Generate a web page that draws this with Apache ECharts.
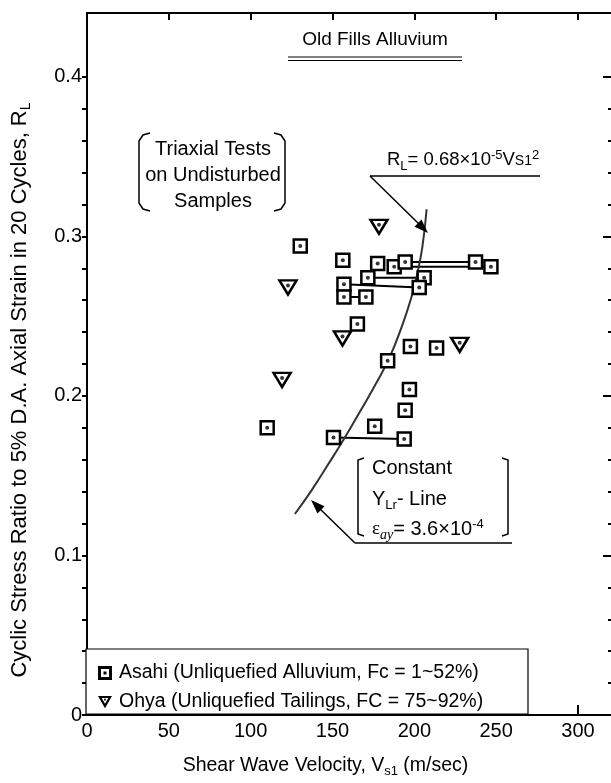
<!DOCTYPE html>
<html>
<head>
<meta charset="utf-8">
<style>
  html, body { margin: 0; padding: 0; background: #fff; }
  #main { width: 611px; height: 783px; }
</style>
<script src="https://cdn.jsdelivr.net/npm/echarts@6/dist/echarts.min.js"></script>
</head>
<body>
<div id="main"></div>
<script>
// Asahi (squares): Vs1, RL
var asahiVs = [130.3, 156.3, 177.6, 187.7, 194.4, 237.4, 246.8, 171.6, 206.0, 157.0, 203.0, 157.0, 170.4, 165.2, 197.6, 213.6, 183.7, 197.0, 194.4, 110.1, 175.8, 150.6, 193.8];
var asahiRL = [0.294, 0.285, 0.283, 0.281, 0.284, 0.284, 0.281, 0.274, 0.274, 0.270, 0.268, 0.262, 0.262, 0.245, 0.231, 0.230, 0.222, 0.204, 0.191, 0.180, 0.181, 0.174, 0.173];
// pairs of Asahi points joined by a line (indexes)
var asahiLinks = [[4, 5], [3, 6], [7, 8], [9, 10], [11, 12], [21, 22]];
// Ohya (triangles)
var ohyaVs = [178.4, 122.8, 156.1, 227.7, 119.2];
var ohyaRL = [0.306, 0.268, 0.236, 0.232, 0.210];
// RL = 0.68e-5 Vs1^2 line
var curveVs = [127, 137, 147, 157, 167, 177, 185, 192, 198, 202, 205, 207.5];
var curveRL = [0.126, 0.1405, 0.1565, 0.173, 0.1905, 0.2085, 0.2245, 0.2425, 0.261, 0.2775, 0.294, 0.317];
// ticks
var xTicks = [0, 50, 100, 150, 200, 250, 300];
var yLabels = [0, 0.1, 0.2, 0.3, 0.4];
var yMinor = [0, 0.02, 0.04, 0.06, 0.08, 0.1, 0.12, 0.14, 0.16, 0.18, 0.2, 0.22, 0.24, 0.26, 0.28, 0.3, 0.32, 0.34, 0.36, 0.38, 0.4];

var ASAHI = 'Asahi (Unliquefied Alluvium, Fc = 1~52%)';
var OHYA = 'Ohya (Unliquefied Tailings, FC = 75~92%)';
var FONT = '"Liberation Sans", Arial, sans-serif';

function zip(a, b) {
    return a.map(function (v, i) { return [v, b[i]]; });
}

var myChart = echarts.init(document.getElementById('main'));

var series = [];
// connecting lines
asahiLinks.forEach(function (p) {
    series.push({
        type: 'line',
        data: [[asahiVs[p[0]], asahiRL[p[0]]], [asahiVs[p[1]], asahiRL[p[1]]]],
        showSymbol: false,
        lineStyle: { color: '#000', width: 2 },
        silent: true,
        z: 2
    });
});
series.push({
    type: 'line',
    data: zip(curveVs, curveRL),
    smooth: true,
    showSymbol: false,
    lineStyle: { color: '#333', width: 2 },
    silent: true,
    z: 2
});
series.push({
    name: ASAHI,
    type: 'scatter',
    data: zip(asahiVs, asahiRL),
    symbol: 'rect',
    symbolSize: 13,
    itemStyle: { color: '#fff', borderColor: '#000', borderWidth: 2.5, opacity: 1 },
    z: 3
});
series.push({
    type: 'scatter',
    data: zip(asahiVs, asahiRL),
    symbol: 'circle',
    symbolSize: 4,
    itemStyle: { color: '#000' },
    z: 4
});
series.push({
    name: OHYA,
    type: 'scatter',
    data: zip(ohyaVs, ohyaRL),
    symbol: 'triangle',
    symbolRotate: 180,
    symbolSize: [17, 14],
    itemStyle: { color: '#fff', borderColor: '#000', borderWidth: 2.5, opacity: 1 },
    z: 3
});
series.push({
    type: 'scatter',
    data: zip(ohyaVs, ohyaRL),
    symbol: 'circle',
    symbolSize: 4,
    symbolOffset: [0, -2],
    itemStyle: { color: '#000' },
    z: 4
});

var subStyle = { fontSize: 13, fontFamily: FONT, padding: [12, 0, 0, 0] };
var supStyle = { fontSize: 13, fontFamily: FONT, padding: [0, 0, 10, 0] };
var axisLineStyle = { color: '#000', width: 2 };

var option = {
    animation: false,
    textStyle: { fontFamily: FONT, color: '#000' },
    grid: { left: 87, top: 13, right: -3, bottom: 68, outerBoundsMode: 'none', containLabel: false },
    xAxis: [
        {
            type: 'value', position: 'bottom', min: 0, max: 322,
            axisLine: { onZero: false, lineStyle: axisLineStyle },
            axisTick: { inside: true, length: 10, customValues: xTicks, lineStyle: { color: '#000', width: 2 } },
            axisLabel: { customValues: xTicks, fontSize: 20, color: '#000', margin: 6, fontFamily: FONT },
            splitLine: { show: false },
            name: 'Shear Wave Velocity, V{sub|s1} (m/sec)',
            nameLocation: 'middle',
            nameGap: 38,
            nameTextStyle: { fontSize: 19.5, color: '#000', fontFamily: FONT, padding: [0, 50, 0, 0], rich: { sub: subStyle } }
        },
        {
            type: 'value', position: 'top', min: 0, max: 322,
            axisLine: { onZero: false, lineStyle: axisLineStyle },
            axisTick: { inside: true, length: 7, customValues: xTicks, lineStyle: { color: '#000', width: 2 } },
            axisLabel: { show: false },
            splitLine: { show: false }
        }
    ],
    yAxis: [
        {
            type: 'value', position: 'left', min: 0, max: 0.44,
            axisLine: { show: true, onZero: false, lineStyle: axisLineStyle },
            axisTick: { show: true, inside: false, length: 5, customValues: yMinor, lineStyle: { color: '#000', width: 2 } },
            axisLabel: {
                customValues: yLabels, fontSize: 20, color: '#000', margin: 5, fontFamily: FONT,
                formatter: function (v) { return v === 0 ? '0' : v.toFixed(1); }
            },
            splitLine: { show: false },
            name: 'Cyclic Stress Ratio to 5% D.A. Axial Strain in 20 Cycles, R{sub|L}',
            nameLocation: 'middle',
            nameRotate: 90,
            nameGap: 54,
            nameTextStyle: { fontSize: 22, color: '#000', fontFamily: FONT, padding: [0, 52, 0, 0], rich: { sub: { fontSize: 14, fontFamily: FONT, padding: [13, 0, 0, 0] } } }
        },
        {
            type: 'value', position: 'right', min: 0, max: 0.44,
            axisLine: { show: true, onZero: false, lineStyle: axisLineStyle },
            axisTick: { show: true, inside: true, length: 11, customValues: yLabels, lineStyle: { color: '#000', width: 2 } },
            axisLabel: { show: false },
            splitLine: { show: false }
        },
        {
            type: 'value', position: 'right', min: 0, max: 0.44,
            axisLine: { show: false, onZero: false },
            axisTick: { show: true, inside: true, length: 6, customValues: yMinor, lineStyle: { color: '#000', width: 2 } },
            axisLabel: { show: false },
            splitLine: { show: false }
        }
    ],
    legend: {
        orient: 'vertical',
        left: 93,
        top: 658,
        itemWidth: 14,
        itemHeight: 14,
        itemGap: 9,
        selectedMode: false,
        z: 10,
        textStyle: { fontSize: 19.5, color: '#000', fontFamily: FONT, padding: [0, 0, 0, 2] },
        data: [
            {
                name: ASAHI,
                icon: 'path://M0,0L14,0L14,14L0,14Z M3,3L3,11L11,11L11,3Z M5.5,5.5L8.5,5.5L8.5,8.5L5.5,8.5Z',
                itemStyle: { color: '#000', borderWidth: 0 }
            },
            {
                name: OHYA,
                icon: 'path://M0,0L16,0L8,14Z M4.2,2.4L8,9L11.8,2.4Z M7,3.4L9,3.4L9,5.4L7,5.4Z',
                itemStyle: { color: '#000', borderWidth: 0 }
            }
        ]
    },
    graphic: [
        // legend box
        { type: 'rect', z: 8, shape: { x: 86, y: 649, width: 442, height: 65 }, style: { fill: '#fff', stroke: '#000', lineWidth: 1.2 } },
        // title with double underline
        { type: 'text', z: 8, x: 375, y: 40, style: { text: 'Old Fills Alluvium', font: '19px ' + FONT, textAlign: 'center', textVerticalAlign: 'middle', fill: '#000' } },
        { type: 'line', z: 8, shape: { x1: 288, y1: 57, x2: 462, y2: 57 }, style: { stroke: '#000', lineWidth: 1.2 } },
        { type: 'line', z: 8, shape: { x1: 288, y1: 60.5, x2: 462, y2: 60.5 }, style: { stroke: '#000', lineWidth: 1.2 } },
        // Triaxial tests note
        { type: 'text', z: 8, x: 213, y: 175, style: { text: 'Triaxial Tests\non Undisturbed\nSamples', font: '20px ' + FONT, lineHeight: 26, textAlign: 'center', textVerticalAlign: 'middle', fill: '#000' } },
        { type: 'polyline', z: 8, shape: { points: [[150, 133], [143, 135], [139, 141], [139, 203], [143, 209], [150, 211]] }, style: { stroke: '#000', lineWidth: 1.5, fill: null } },
        { type: 'polyline', z: 8, shape: { points: [[274, 133], [281, 135], [285, 141], [285, 203], [281, 209], [274, 211]] }, style: { stroke: '#000', lineWidth: 1.5, fill: null } },
        // formula
        {
            type: 'text', z: 8, x: 387, y: 160,
            style: {
                text: 'R{sub|L}= 0.68×10{sup|-5}V{sm|S1}{sup|2}',
                fontSize: 18.5, fontFamily: FONT, textAlign: 'left', textVerticalAlign: 'middle', fill: '#000',
                rich: { sub: subStyle, sup: supStyle, sm: { fontSize: 14, fontFamily: FONT, padding: [3, 0, 0, 0] } }
            }
        },
        { type: 'line', z: 8, shape: { x1: 370, y1: 176, x2: 540, y2: 176 }, style: { stroke: '#000', lineWidth: 1.5 } },
        { type: 'line', z: 8, shape: { x1: 370, y1: 176, x2: 420, y2: 225 }, style: { stroke: '#000', lineWidth: 1.5 } },
        { type: 'polygon', z: 8, shape: { points: [[428, 233], [414.5, 226.8], [421.5, 219.6]] }, style: { fill: '#000' } },
        // constant Y line note
        { type: 'text', z: 8, x: 372, y: 468, style: { text: 'Constant', font: '20px ' + FONT, textVerticalAlign: 'middle', fill: '#000' } },
        {
            type: 'text', z: 8, x: 372, y: 499,
            style: { text: 'Y{sub|Lr}- Line', fontSize: 20, fontFamily: FONT, textVerticalAlign: 'middle', fill: '#000', rich: { sub: subStyle } }
        },
        {
            type: 'text', z: 8, x: 372, y: 529,
            style: {
                text: '{eps|ε}{it|ay}= 3.6×10{sup|-4}', fontSize: 20, fontFamily: FONT, textVerticalAlign: 'middle', fill: '#000',
                rich: {
                    eps: { fontSize: 19, fontFamily: '"Liberation Serif", serif' },
                    it: { fontSize: 14, fontStyle: 'italic', fontFamily: '"Liberation Serif", serif', padding: [12, 0, 0, 0] },
                    sup: supStyle
                }
            }
        },
        { type: 'polyline', z: 8, shape: { points: [[364, 458], [358, 460], [358, 534], [364, 536]] }, style: { stroke: '#000', lineWidth: 1.5, fill: null } },
        { type: 'polyline', z: 8, shape: { points: [[502, 458], [508, 460], [508, 534], [502, 536]] }, style: { stroke: '#000', lineWidth: 1.5, fill: null } },
        { type: 'line', z: 8, shape: { x1: 355, y1: 543, x2: 512, y2: 543 }, style: { stroke: '#000', lineWidth: 1.5 } },
        { type: 'line', z: 8, shape: { x1: 355, y1: 543, x2: 318, y2: 507 }, style: { stroke: '#000', lineWidth: 1.5 } },
        { type: 'polygon', z: 8, shape: { points: [[311, 500], [324.5, 506.2], [317.5, 513.4]] }, style: { fill: '#000' } }
    ],
    series: series
};
myChart.setOption(option);
</script>
</body>
</html>
